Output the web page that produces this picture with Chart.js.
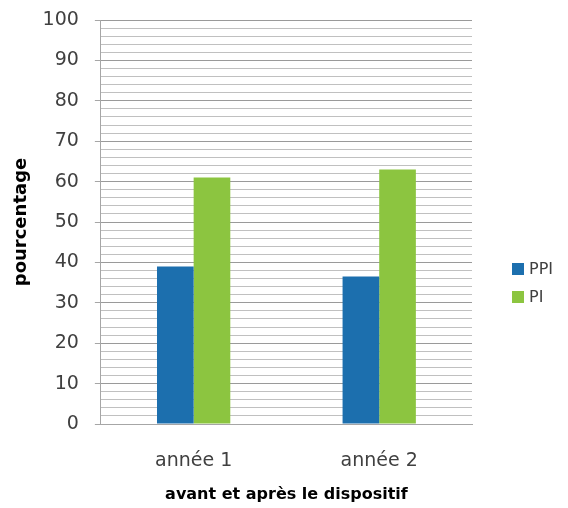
<!DOCTYPE html>
<html lang="fr">
<head>
<meta charset="UTF-8">
<title>pourcentage PPI / PI</title>
<script src="https://cdn.jsdelivr.net/npm/chart.js"></script>
<style>
  html, body { margin: 0; padding: 0; background: #fff; }
  #wrap { width: 568px; height: 508px; }
</style>
</head>
<body>
<div id="wrap"><canvas id="chart"></canvas></div>
<script>
const categories = ['année 1', 'année 2'];
const seriesNames = ['PPI', 'PI'];
const ppiValues = [39, 36.5];
const piValues = [61, 63];
const yTicks = [0, 10, 20, 30, 40, 50, 60, 70, 80, 90, 100];

const colors = ['#1c6fae', '#8cc540'];
const font = "'DejaVu Sans', sans-serif";

// legend on the right, drawn by hand to sit where the original has it
const sideLegend = {
  id: 'sideLegend',
  afterDraw(chart) {
    const ctx = chart.ctx;
    ctx.save();
    ctx.font = '16px ' + font;
    ctx.textBaseline = 'middle';
    chart.data.datasets.forEach((ds, i) => {
      const y = 269 + i * 28;
      ctx.fillStyle = ds.backgroundColor;
      ctx.fillRect(512, y - 6, 12, 12);
      ctx.fillStyle = '#404040';
      ctx.fillText(ds.label, 529, y + 1);
    });
    ctx.restore();
  }
};

new Chart(document.getElementById('chart'), {
  type: 'bar',
  data: {
    labels: categories,
    datasets: [
      { label: seriesNames[0], data: ppiValues, backgroundColor: colors[0] },
      { label: seriesNames[1], data: piValues, backgroundColor: colors[1] }
    ]
  },
  options: {
    responsive: true,
    maintainAspectRatio: false,
    animation: false,
    layout: { padding: { top: 20, right: 96, left: 3, bottom: 4 } },
    datasets: { bar: { categoryPercentage: 0.395, barPercentage: 1 } },
    plugins: { legend: { display: false }, tooltip: { enabled: false } },
    scales: {
      x: {
        grid: { display: false },
        border: { color: '#a6a6a6', width: 1 },
        ticks: { color: '#404040', font: { family: font, size: 19 }, padding: 18 },
        title: {
          display: true, text: 'avant et après le dispositif', color: '#000',
          font: { family: font, size: 16, weight: 'bold' }, padding: { top: -6, bottom: 0 }
        }
      },
      y: {
        min: 0, max: 100,
        afterBuildTicks(axis) {
          // minor grid every 2 units, labels only on the 10s
          const t = [];
          for (let v = 0; v <= 100; v += 2) t.push({ value: v });
          axis.ticks = t;
        },
        afterFit(axis) {
          // tick padding otherwise pushes the plot down from the top
          axis.paddingTop = 0;
          axis.paddingBottom = 0;
        },
        ticks: {
          autoSkip: false,
          color: '#404040',
          font: { family: font, size: 19 },
          padding: 16,
          callback: v => (yTicks.includes(v) ? String(v) : '')
        },
        grid: {
          color: c => (c.tick && c.tick.value % 10 === 0 ? '#9a9a9a' : '#c0c0c0'),
          tickColor: c => (c.tick && c.tick.value % 10 === 0 ? '#a6a6a6' : 'rgba(0,0,0,0)'),
          tickLength: 6
        },
        border: { color: '#a6a6a6', width: 1 },
        title: {
          display: true, text: 'pourcentage', color: '#000',
          font: { family: font, size: 18, weight: 'bold' }, padding: { top: 8, bottom: -6 }
        }
      }
    }
  },
  plugins: [sideLegend]
});
</script>
</body>
</html>
